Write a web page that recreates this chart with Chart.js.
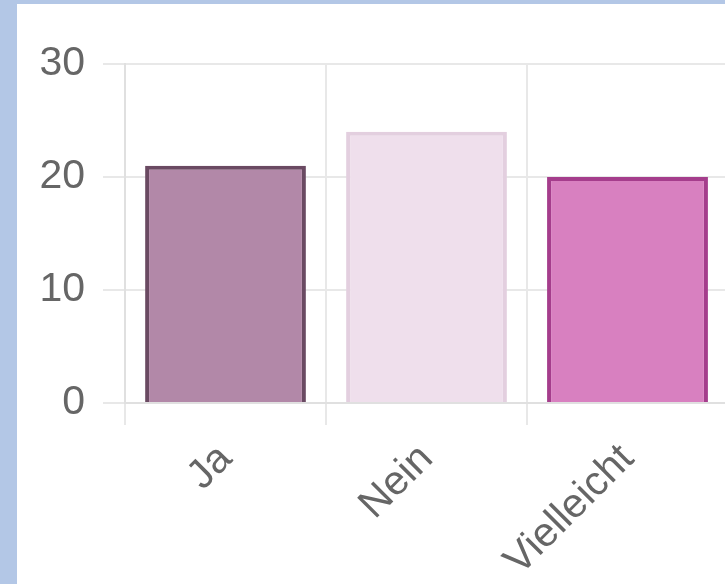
<!DOCTYPE html>
<html>
<head>
<meta charset="utf-8">
<script src="https://cdn.jsdelivr.net/npm/chart.js@4"></script>
<style>
    html, body { margin: 0; padding: 0; overflow: hidden; }
    body { background: #b3c7e6; width: 725px; height: 584px; position: relative; }
    #panel { position: absolute; left: 17px; top: 4px; width: 711px; height: 600px; background: #fff; }
</style>
</head>
<body>
<div id="panel"><canvas id="voteChart"></canvas></div>
<script>
// Antworten und Anzahl
const categories = ['Ja', 'Nein', 'Vielleicht'];
const counts = [21, 24, 20];
const yTicks = [0, 10, 20, 30];

const fillColors = ['#b288a8', '#efdfec', '#d880c0'];
const edgeColors = ['#6a4a62', '#e3cfdf', '#a53d8c'];

const ctx = document.getElementById('voteChart');

new Chart(ctx, {
    type: 'bar',
    data: {
        labels: categories,
        datasets: [{
            data: counts,
            backgroundColor: fillColors,
            borderColor: edgeColors,
            borderWidth: 4,
            categoryPercentage: 0.8,
            barPercentage: 1.0
        }]
    },
    options: {
        responsive: true,
        maintainAspectRatio: false,
        animation: false,
        layout: { padding: { top: 60, left: 0, right: 0, bottom: 0 } },
        plugins: {
            legend: { display: false },
            tooltip: { enabled: false }
        },
        scales: {
            y: {
                min: 0,
                max: 30,
                afterBuildTicks(scale) {
                    scale.ticks = yTicks.map(v => ({ value: v }));
                },
                afterFit(scale) { scale.width = 108; },
                grid: { color: '#e8e8e8', lineWidth: 2, tickLength: 22 },
                border: { color: '#e0e0e0', width: 2 },
                ticks: {
                    padding: 18,
                    color: '#666',
                    font: { family: 'Liberation Sans', size: 41 }
                }
            },
            x: {
                afterFit(scale) { scale.height = 201; },
                grid: { color: '#e8e8e8', lineWidth: 2, tickLength: 22 },
                border: { color: '#e0e0e0', width: 2 },
                ticks: {
                    minRotation: 45,
                    maxRotation: 45,
                    padding: 10,
                    color: '#666',
                    font: { family: 'Liberation Sans', size: 41 }
                }
            }
        }
    }
});
</script>
</body>
</html>
